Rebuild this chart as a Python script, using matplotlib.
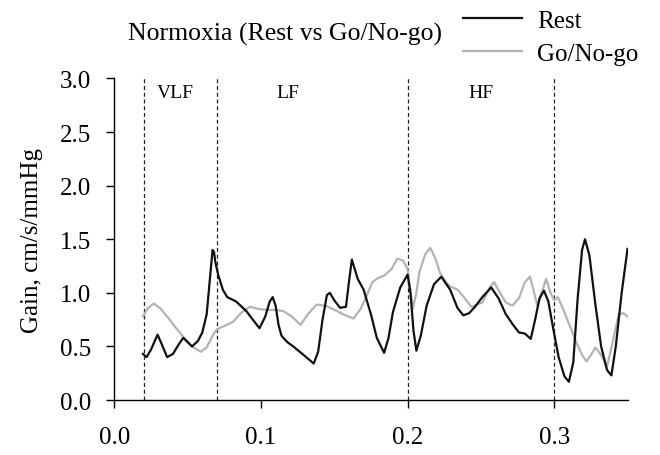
import matplotlib
matplotlib.use("Agg")
import matplotlib.pyplot as plt

plt.rcParams['font.family'] = ['Liberation Serif', 'DejaVu Serif']

rest_x = [0.0195, 0.022, 0.025, 0.0295, 0.033, 0.036, 0.040, 0.044, 0.047, 0.050,
          0.053, 0.057, 0.060, 0.063, 0.065, 0.067, 0.068, 0.069, 0.071, 0.074,
          0.077, 0.083, 0.090, 0.095, 0.099, 0.103, 0.106, 0.108, 0.110, 0.112,
          0.114, 0.118, 0.122, 0.130, 0.136, 0.139, 0.142, 0.145, 0.147, 0.150,
          0.154, 0.158, 0.160, 0.162, 0.164, 0.166, 0.170, 0.175, 0.179, 0.184,
          0.187, 0.190, 0.195, 0.200, 0.202, 0.204, 0.206, 0.209, 0.213, 0.218,
          0.223, 0.229, 0.234, 0.238, 0.242, 0.246, 0.251, 0.257, 0.262, 0.267,
          0.272, 0.276, 0.280, 0.284, 0.287, 0.290, 0.293, 0.296, 0.299, 0.303,
          0.307, 0.310, 0.313, 0.316, 0.319, 0.321, 0.324, 0.328, 0.332, 0.336,
          0.339, 0.342, 0.346, 0.350]
rest_y = [0.43, 0.40, 0.47, 0.61, 0.50, 0.40, 0.43, 0.52, 0.58, 0.54,
          0.50, 0.55, 0.63, 0.80, 1.10, 1.40, 1.38, 1.28, 1.16, 1.03,
          0.96, 0.92, 0.83, 0.74, 0.67, 0.78, 0.92, 0.96, 0.88, 0.70,
          0.60, 0.54, 0.50, 0.41, 0.34, 0.45, 0.75, 0.98, 1.00, 0.93,
          0.86, 0.87, 1.10, 1.31, 1.22, 1.13, 1.03, 0.80, 0.58, 0.44,
          0.58, 0.82, 1.05, 1.17, 1.00, 0.65, 0.46, 0.60, 0.88, 1.08,
          1.15, 1.03, 0.86, 0.79, 0.81, 0.87, 0.96, 1.05, 0.95, 0.80,
          0.70, 0.63, 0.62, 0.57, 0.75, 0.95, 1.02, 0.92, 0.69, 0.40,
          0.22, 0.17, 0.35, 0.95, 1.40, 1.50, 1.35, 0.90, 0.50, 0.28,
          0.23, 0.50, 1.00, 1.41]

gono_x = [0.0195, 0.023, 0.027, 0.031, 0.036, 0.041, 0.047, 0.053, 0.059, 0.063,
          0.067, 0.070, 0.075, 0.081, 0.087, 0.0925, 0.098, 0.104, 0.110, 0.115,
          0.121, 0.127, 0.132, 0.138, 0.144, 0.149, 0.156, 0.163, 0.168, 0.172,
          0.176, 0.180, 0.184, 0.189, 0.193, 0.197, 0.200, 0.2035, 0.206, 0.208,
          0.212, 0.2155, 0.219, 0.222, 0.226, 0.229, 0.234, 0.239, 0.2435, 0.251,
          0.256, 0.259, 0.263, 0.267, 0.2715, 0.276, 0.280, 0.2835, 0.286, 0.2885,
          0.291, 0.2945, 0.2975, 0.300, 0.3025, 0.306, 0.311, 0.315, 0.319, 0.322,
          0.325, 0.328, 0.332, 0.336, 0.340, 0.344, 0.347, 0.350]
gono_y = [0.78, 0.86, 0.90, 0.86, 0.78, 0.69, 0.59, 0.50, 0.45, 0.49,
          0.60, 0.66, 0.69, 0.73, 0.82, 0.87, 0.85, 0.84, 0.84, 0.83,
          0.78, 0.70, 0.80, 0.89, 0.88, 0.85, 0.80, 0.76, 0.85, 0.97,
          1.10, 1.14, 1.16, 1.22, 1.32, 1.30, 1.22, 0.85, 1.00, 1.19,
          1.36, 1.42, 1.32, 1.19, 1.10, 1.06, 1.03, 0.95, 0.87, 0.91,
          1.05, 1.10, 1.00, 0.91, 0.88, 0.95, 1.10, 1.15, 1.02, 0.88,
          0.98, 1.13, 1.00, 0.93, 0.96, 0.85, 0.68, 0.54, 0.42, 0.36,
          0.42, 0.49, 0.42, 0.31, 0.55, 0.80, 0.81, 0.78]

band_edges = [0.02, 0.07, 0.2, 0.3]
band_labels = ["VLF", "LF", "HF"]
band_label_x = [0.0414, 0.118, 0.25]
x_ticks = [0.0, 0.1, 0.2, 0.3]
y_ticks = [0.0, 0.5, 1.0, 1.5, 2.0, 2.5, 3.0]

fig = plt.figure(figsize=(6.6, 4.56), dpi=100)
ax = fig.add_axes([0.1732, 0.1206, 0.9508 - 0.1732, 0.8257 - 0.1206])

l1, = ax.plot(rest_x, rest_y, color='#111111', lw=1.6, label='Rest', zorder=3)
l2, = ax.plot(gono_x, gono_y, color='#b3b3b3', lw=1.6, label='Go/No-go', zorder=2)

for e in band_edges:
    ax.axvline(e, color='#222222', lw=0.9, dashes=(3.2, 2.2), zorder=1)
for lx, lab in zip(band_label_x, band_labels):
    ax.text(lx, 2.87, lab, ha='center', va='center', fontsize=14)

ax.set_xlim(0, 0.35)
ax.set_ylim(0, 3.0)
ax.set_xticks(x_ticks)
ax.set_xticklabels([f"{t:.1f}" for t in x_ticks])
ax.set_yticks(y_ticks)
ax.set_yticklabels([f"{t:.1f}" for t in y_ticks])
ax.tick_params(labelsize=18, length=5.5, width=1.0, direction='out')
ax.tick_params(axis='y', pad=11)
ax.tick_params(axis='x', pad=13)
for s in ['top', 'right']:
    ax.spines[s].set_visible(False)
for s in ['left', 'bottom']:
    ax.spines[s].set_linewidth(1.0)
ax.set_ylabel("Gain, cm/s/mmHg", fontsize=18, labelpad=12)

fig.text(284.5 / 660, 1 - 34 / 456, "Normoxia (Rest vs Go/No-go)",
         ha='center', va='center', fontsize=18.5)
fig.legend(handles=[l1, l2], loc='upper left', bbox_to_anchor=(463 / 660, 1 - 10 / 456),
           frameon=False, fontsize=18, handlelength=2.36, handletextpad=0.6,
           labelspacing=0.44, borderpad=0, borderaxespad=0)

fig.savefig("out.png", dpi=100)
